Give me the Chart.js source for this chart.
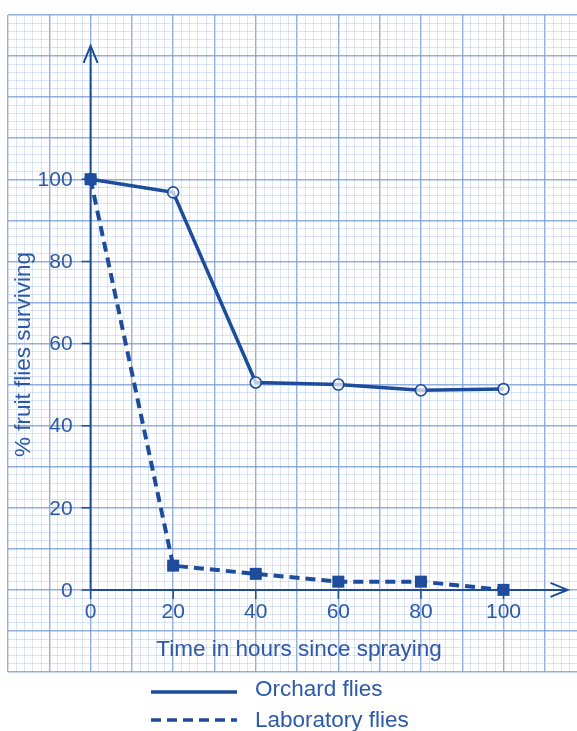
<!DOCTYPE html>
<html>
<head>
<meta charset="utf-8">
<script src="https://cdn.jsdelivr.net/npm/chart.js@4"></script>
<style>
  html, body { margin: 0; padding: 0; background: #fff; overflow: hidden; }
  #wrap { width: 577px; height: 731px; position: relative; }
</style>
</head>
<body>
<div id="wrap"><canvas id="chart"></canvas></div>
<script>
// data
var hours = [0, 20, 40, 60, 80, 100];
var orchard = [100, 96.8, 50.5, 50, 48.6, 48.9];
var laboratory = [100, 5.9, 3.9, 2, 2, 0];
var xTicks = [0, 20, 40, 60, 80, 100];
var yTicks = [0, 20, 40, 60, 80, 100];
var xTitle = 'Time in hours since spraying';
var yTitle = '% fruit flies surviving';
var seriesNames = ['Orchard flies', 'Laboratory flies'];

var ink = '#1d4c9c';
var textInk = '#2c59a8';
var FONT = '"Liberation Sans", Arial, sans-serif';

function pts(ys){ return hours.map(function(h, i){ return {x: h, y: ys[i]}; }); }

var paper = {
  id: 'paper',
  beforeDatasetsDraw: function(chart){
    var ctx = chart.ctx, xs = chart.scales.x, ys = chart.scales.y;
    var x0 = xs.getPixelForValue(0), y0 = ys.getPixelForValue(0);
    var ax = xs.getPixelForValue(115.5), ay = ys.getPixelForValue(132.5);
    ctx.save();
    ctx.strokeStyle = ink;
    ctx.lineWidth = 2;
    // axes
    ctx.beginPath();
    ctx.moveTo(x0, y0); ctx.lineTo(ax, y0);
    ctx.moveTo(x0, y0); ctx.lineTo(x0, ay);
    ctx.stroke();
    // arrow heads
    ctx.beginPath();
    ctx.moveTo(ax - 17, y0 - 7); ctx.lineTo(ax, y0); ctx.lineTo(ax - 17, y0 + 7);
    ctx.moveTo(x0 - 7, ay + 17); ctx.lineTo(x0, ay); ctx.lineTo(x0 + 7, ay + 17);
    ctx.stroke();
    // tick marks
    ctx.lineWidth = 1.5;
    ctx.beginPath();
    xTicks.forEach(function(v){
      var px = xs.getPixelForValue(v);
      ctx.moveTo(px, y0); ctx.lineTo(px, y0 + 9);
    });
    yTicks.forEach(function(v){
      var py = ys.getPixelForValue(v);
      ctx.moveTo(x0 - 9, py); ctx.lineTo(x0, py);
    });
    ctx.stroke();
    // tick labels
    ctx.fillStyle = textInk;
    ctx.font = '21px ' + FONT;
    ctx.textAlign = 'center';
    ctx.textBaseline = 'middle';
    xTicks.forEach(function(v){
      ctx.fillText(String(v), xs.getPixelForValue(v), y0 + 22);
    });
    ctx.textAlign = 'right';
    yTicks.forEach(function(v){
      ctx.fillText(String(v), x0 - 18, ys.getPixelForValue(v) + 1);
    });
    // axis titles
    ctx.font = '22.5px ' + FONT;
    ctx.textAlign = 'center';
    ctx.fillText(xTitle, xs.getPixelForValue(50.5), ys.getPixelForValue(-14.5));
    ctx.translate(xs.getPixelForValue(-16.1), ys.getPixelForValue(57.3));
    ctx.rotate(-Math.PI / 2);
    ctx.fillText(yTitle, 0, 0);
    ctx.restore();
  },
  afterDraw: function(chart){
    var ctx = chart.ctx;
    ctx.save();
    ctx.strokeStyle = ink;
    ctx.lineWidth = 3.5;
    ctx.beginPath();
    ctx.moveTo(151, 692); ctx.lineTo(237, 692);
    ctx.stroke();
    ctx.setLineDash([10, 6]);
    ctx.beginPath();
    ctx.moveTo(151, 720); ctx.lineTo(237, 720);
    ctx.stroke();
    ctx.setLineDash([]);
    ctx.fillStyle = textInk;
    ctx.font = '22.5px ' + FONT;
    ctx.textAlign = 'left';
    ctx.textBaseline = 'middle';
    ctx.fillText(seriesNames[0], 255, 690);
    ctx.fillText(seriesNames[1], 255, 721);
    ctx.restore();
  }
};

function gridColor(c){
  return Math.round(c.tick.value) % 10 === 0 ? 'rgba(120,155,212,0.8)' : 'rgba(170,195,235,0.5)';
}
function gridWidth(c){
  return Math.round(c.tick.value) % 10 === 0 ? 1.4 : 0.9;
}

new Chart(document.getElementById('chart'), {
  type: 'line',
  data: {
    datasets: [
      {
        label: seriesNames[1],
        data: pts(laboratory),
        borderColor: ink,
        backgroundColor: ink,
        borderWidth: 4,
        borderDash: [10, 6],
        pointStyle: 'rect',
        pointRadius: 8.5,
        pointBorderWidth: 0,
        tension: 0
      },
      {
        label: seriesNames[0],
        data: pts(orchard),
        borderColor: ink,
        backgroundColor: 'rgba(255,255,255,0.7)',
        borderWidth: 3.5,
        pointStyle: 'circle',
        pointRadius: 5.5,
        pointBorderWidth: 1.6,
        tension: 0
      }
    ]
  },
  options: {
    responsive: true,
    maintainAspectRatio: false,
    animation: false,
    layout: { autoPadding: false, padding: { left: 8, top: 15, right: 0, bottom: 59 } },
    plugins: { legend: { display: false }, tooltip: { enabled: false } },
    scales: {
      x: {
        type: 'linear',
        min: -20, max: 117.8,
        afterBuildTicks: function(s){
          var t = [];
          for (var v = -20; v <= 116; v += 2) t.push({value: v});
          s.ticks = t;
        },
        ticks: { display: false },
        grid: { color: gridColor, lineWidth: gridWidth, drawTicks: false },
        border: { display: false }
      },
      y: {
        type: 'linear',
        min: -20, max: 140,
        afterBuildTicks: function(s){
          var t = [];
          for (var v = -20; v <= 140; v += 2) t.push({value: v});
          s.ticks = t;
        },
        ticks: { display: false },
        grid: { color: gridColor, lineWidth: gridWidth, drawTicks: false },
        border: { display: false }
      }
    }
  },
  plugins: [paper]
});
</script>
</body>
</html>
